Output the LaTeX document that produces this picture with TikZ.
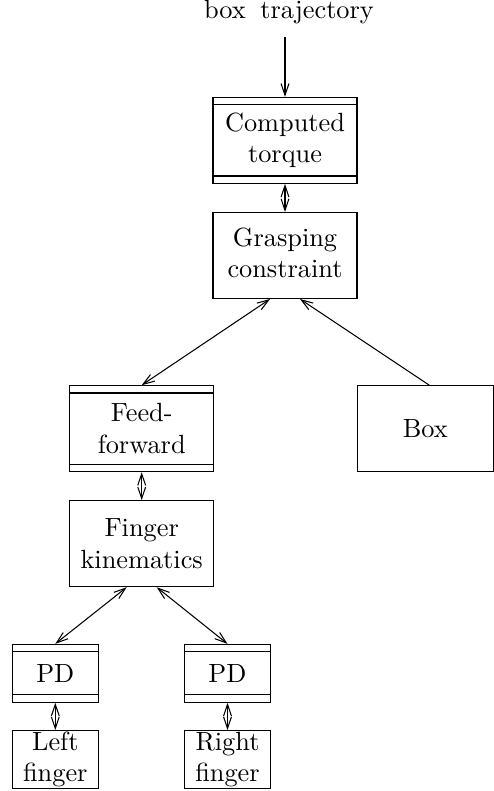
\documentclass[tikz,border=0pt]{standalone}
\usetikzlibrary{calc,arrows.meta}
\tikzset{
  x=0.38pt, y=-0.38pt,
  blk/.style={draw, rectangle, inner sep=0pt, align=center, line width=0.4pt},
  bigbox/.style={blk, minimum width=54.72pt, minimum height=32.68pt},
  smallbox/.style={blk, minimum width=32.68pt, minimum height=22pt},
  dbl/.style={path picture={
    \draw ([yshift=-2.77pt]path picture bounding box.north west) -- ([yshift=-2.77pt]path picture bounding box.north east);
    \draw ([yshift=2.77pt]path picture bounding box.south west) -- ([yshift=2.77pt]path picture bounding box.south east);
  }},
  conn/.style={line width=0.4pt, >={Straight Barb[length=4.4pt,width=3pt]}},
}
\begin{document}
\begin{tikzpicture}
\useasboundingbox (0,0) rectangle (494,791);
\node[anchor=base, inner sep=0pt] (btxt) at (289,19) {box\hspace{2.2pt} trajectory};
\node[bigbox, dbl] (ct) at (285,140.3) {Computed\\torque};
\node[bigbox] (gc) at (285,255.5) {\raisebox{2.7pt}{\begin{tabular}{@{}c@{}}Grasping\\constraint\end{tabular}}};
\node[bigbox, dbl] (ff) at (141.7,428.7) {Feed-\\forward};
\node[blk, minimum width=51.68pt, minimum height=32.68pt] (bx) at (425.3,428.7) {Box};
\node[bigbox] (fk) at (141.7,543.7) {Finger\\kinematics};
\node[smallbox, dbl] (pdl) at (55.3,673.3) {PD};
\node[smallbox, dbl] (pdr) at (227.5,673.3) {PD};
\node[smallbox] (lf) at (55.3,759.5) {Left\\finger};
\node[smallbox] (rf) at (227.5,759.5) {Right\\finger};

\draw[conn, ->, shorten <=4.5pt] (btxt.south -| ct.north) -- (ct.north);
\draw[conn, <->] (ct.south) -- (gc.north);
\draw[conn, <->] ($(gc.south)+(-15,0)$) -- (ff.north);
\draw[conn, ->] ($(bx.north)+(4,0)$) -- ($(gc.south)+(15,0)$);
\draw[conn, <->] (ff.south) -- (fk.north);
\draw[conn, <->] ($(fk.south)+(-15,0)$) -- (pdl.north);
\draw[conn, <->] ($(fk.south)+(15,0)$) -- (pdr.north);
\draw[conn, <->] (pdl.south) -- (lf.north);
\draw[conn, <->] (pdr.south) -- (rf.north);
\end{tikzpicture}
\end{document}
